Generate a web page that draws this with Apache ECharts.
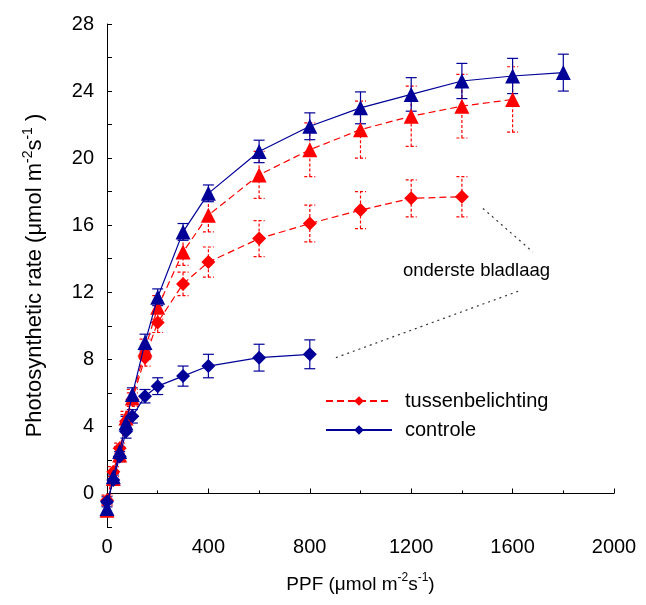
<!DOCTYPE html>
<html>
<head>
	<meta charset="UTF-8">
	<title>Photosynthetic rate</title>
	<script src="https://cdn.jsdelivr.net/npm/echarts@6/dist/echarts.min.js"></script>
	<style>
		html, body { margin: 0; padding: 0; background: #fff; }
		#main { width: 646px; height: 605px; }
	</style>
</head>
<body>
	<div id="main"></div>
<script type="text/javascript">
// PPF waarden (x-as)
var ppf = [0, 25, 50, 75, 100, 150, 200, 300, 400, 600, 800, 1000, 1200, 1400, 1600, 1800];

// bovenste bladlaag (driehoeken)
var controleTop = [-0.9, 1.0, 2.5, 4.2, 5.9, 9.0, 11.7, 15.6, 17.9, 20.4, 21.9, 23.0, 23.8, 24.6, 24.9, 25.1];
var controleTopErr = [0.3, 0.3, 0.3, 0.4, 0.4, 0.5, 0.5, 0.5, 0.5, 0.67, 0.8, 0.95, 1.0, 1.05, 1.05, 1.1];
var tussenTop = [-1.0, 0.9, 2.3, 4.5, 5.7, 8.6, 11.1, 14.4, 16.6, 19.0, 20.5, 21.7, 22.5, 23.1, 23.5];
var tussenTopErr = [0.3, 0.3, 0.4, 0.4, 0.5, 0.6, 0.7, 0.8, 1.0, 1.4, 1.6, 1.7, 1.8, 1.9, 1.95];

// onderste bladlaag (ruiten)
var tussenLow = [-0.4, 1.3, 2.7, 4.3, 5.6, 8.1, 10.2, 12.5, 13.8, 15.2, 16.1, 16.9, 17.6, 17.7];
var tussenLowErr = [0.3, 0.3, 0.3, 0.4, 0.4, 0.5, 0.6, 0.7, 0.9, 1.07, 1.1, 1.1, 1.1, 1.2];
var controleLow = [-0.5, 0.8, 2.2, 3.7, 4.6, 5.8, 6.4, 7.0, 7.6, 8.1, 8.3];
var controleLowErr = [0.3, 0.3, 0.3, 0.4, 0.4, 0.4, 0.5, 0.6, 0.7, 0.8, 0.86];

// aanwijslijnen naar "onderste bladlaag" (data coordinaten)
var pointerLines = [
	[[1483, 17.0], [1680, 14.4]],
	[[903, 8.1], [1629, 12.1]]
];

var RED = '#ff0000';
var BLUE = '#000099';
var FONT = 'Liberation Sans, Arial, sans-serif';

function pairs(ys) {
	return ys.map(function (y, i) { return [ppf[i], y]; });
}
function errData(ys, errs) {
	return ys.map(function (y, i) { return [ppf[i], y - errs[i], y + errs[i]]; });
}
function errSeries(ys, errs, color, dashed) {
	return {
		type: 'custom',
		silent: true,
		z: 1,
		data: errData(ys, errs),
		renderItem: function (params, api) {
			var lo = api.coord([api.value(0), api.value(1)]);
			var hi = api.coord([api.value(0), api.value(2)]);
			var w = 5.5;
			var style = { stroke: color, lineWidth: 1.2, lineDash: dashed ? [3, 2] : null };
			return {
				type: 'group',
				children: [
					{ type: 'line', shape: { x1: lo[0], y1: lo[1], x2: hi[0], y2: hi[1] }, style: style },
					{ type: 'line', shape: { x1: lo[0] - w, y1: lo[1], x2: lo[0] + w, y2: lo[1] }, style: style },
					{ type: 'line', shape: { x1: hi[0] - w, y1: hi[1], x2: hi[0] + w, y2: hi[1] }, style: style }
				]
			};
		}
	};
}

var myChart = echarts.init(document.getElementById('main'));
var option = {
	animation: false,
	textStyle: { fontFamily: FONT },
	grid: { left: 107, right: 32, top: 24, bottom: 78 },
	legend: {
		data: ['tussenbelichting', 'controle'],
		orient: 'vertical',
		left: 320,
		top: 386,
		itemWidth: 66,
		itemHeight: 12,
		itemGap: 9,
		textStyle: { fontSize: 20, color: '#000', fontFamily: FONT, padding: [0, 0, 0, 8] }
	},
	xAxis: {
		type: 'value',
		min: 0,
		max: 2000,
		interval: 400,
		name: '{n|PPF (μmol m}{s|-2}{n|s}{s|-1}{n|)}',
		nameLocation: 'middle',
		nameGap: 45,
		nameTextStyle: {
			rich: {
				n: { fontSize: 19, color: '#000', fontFamily: FONT, lineHeight: 26 },
				s: { fontSize: 12, color: '#000', fontFamily: FONT, verticalAlign: 'top', lineHeight: 26 }
			}
		},
		axisLine: { lineStyle: { color: '#000', width: 1 } },
		axisTick: { inside: true, length: 5, lineStyle: { color: '#000' } },
		minorTick: { show: true, splitNumber: 2, length: 3, lineStyle: { color: '#000' } },
		splitLine: { show: false },
		axisLabel: {
			fontSize: 20, color: '#000', margin: 10, fontFamily: FONT,
			formatter: function (v) { return String(v); }
		}
	},
	yAxis: {
		type: 'value',
		min: -2,
		max: 28,
		interval: 2,
		name: '{n|Photosynthetic rate (μmol m}{s|-2}{n|s}{s|-1}{n| )}',
		nameLocation: 'middle',
		nameRotate: 90,
		nameGap: 58,
		nameTextStyle: {
			rich: {
				n: { fontSize: 22, color: '#000', fontFamily: FONT, lineHeight: 28 },
				s: { fontSize: 14, color: '#000', fontFamily: FONT, verticalAlign: 'top', lineHeight: 28 }
			}
		},
		axisLine: { show: true, lineStyle: { color: '#000', width: 1 } },
		axisTick: { show: true, inside: true, length: 5, lineStyle: { color: '#000' } },
		splitLine: { show: false },
		axisLabel: {
			fontSize: 20, color: '#000', margin: 13, fontFamily: FONT,
			formatter: function (v) { return (v % 4 === 0) ? String(v) : ''; }
		}
	},
	graphic: [{
		type: 'text',
		left: 403,
		top: 261,
		style: { text: 'onderste bladlaag', fontSize: 18.5, fill: '#000', fontFamily: FONT }
	}],
	series: [
		errSeries(tussenLow, tussenLowErr, RED, true),
		errSeries(tussenTop, tussenTopErr, RED, true),
		errSeries(controleLow, controleLowErr, BLUE, false),
		errSeries(controleTop, controleTopErr, BLUE, false),
		{
			name: 'tussenbelichting',
			type: 'line',
			z: 3,
			data: pairs(tussenLow),
			symbol: 'diamond',
			symbolSize: 14,
			itemStyle: { color: RED },
			lineStyle: { color: RED, width: 1.2, type: [7, 4] },
			markLine: {
				silent: true,
				symbol: 'none',
				label: { show: false },
				lineStyle: { color: '#333', width: 1.2, type: [2, 4] },
				data: pointerLines.map(function (l) {
					return [{ coord: l[0] }, { coord: l[1] }];
				})
			}
		},
		{
			name: 'tussenbelichting',
			type: 'line',
			z: 3,
			data: pairs(tussenTop),
			symbol: 'triangle',
			symbolSize: 15,
			itemStyle: { color: RED },
			lineStyle: { color: RED, width: 1.2, type: [7, 4] }
		},
		{
			name: 'controle',
			type: 'line',
			z: 4,
			data: pairs(controleLow),
			symbol: 'diamond',
			symbolSize: 14,
			itemStyle: { color: BLUE },
			lineStyle: { color: BLUE, width: 1.2 }
		},
		{
			name: 'controle',
			type: 'line',
			z: 4,
			data: pairs(controleTop),
			symbol: 'triangle',
			symbolSize: 15,
			itemStyle: { color: BLUE },
			lineStyle: { color: BLUE, width: 1.2 }
		}
	]
};
myChart.setOption(option);
</script>
</body>
</html>
